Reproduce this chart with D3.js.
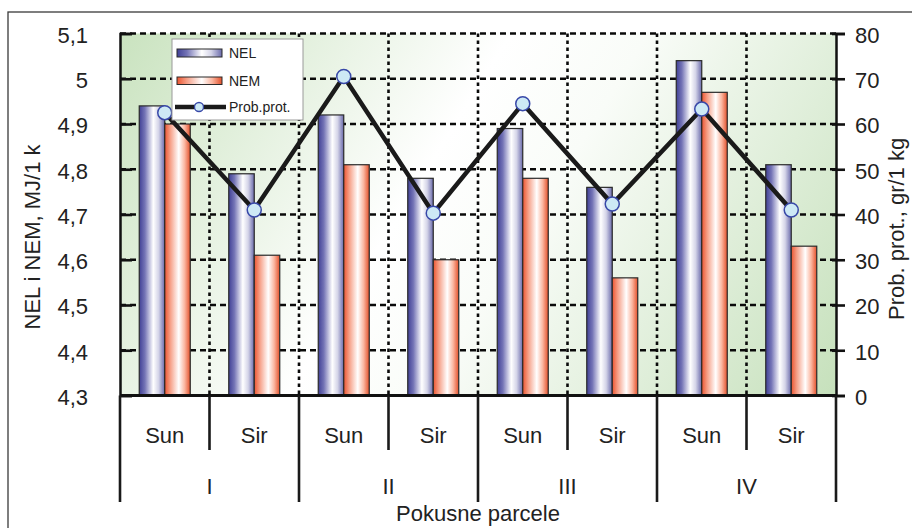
<!DOCTYPE html>
<html><head><meta charset="utf-8">
<script src="https://cdn.jsdelivr.net/npm/d3@7"></script>
<style>
html,body{margin:0;padding:0;background:#fff;}
svg{display:block;font-family:Arial,"Liberation Sans",Helvetica,sans-serif;}
</style></head>
<body>
<svg id="c" width="912" height="528"></svg>
<script>
const groups = ["I","II","III","IV"];
const subLabels = ["Sun","Sir","Sun","Sir","Sun","Sir","Sun","Sir"];
const categories = ["I-Sun","I-Sir","II-Sun","II-Sir","III-Sun","III-Sir","IV-Sun","IV-Sir"];
const nel = [4.94, 4.79, 4.92, 4.78, 4.89, 4.76, 5.04, 4.81];
const nem = [4.90, 4.61, 4.81, 4.60, 4.78, 4.56, 4.97, 4.63];
const prot = [62.5, 41.0, 70.5, 40.3, 64.5, 42.3, 63.3, 41.0];
const leftTicks = [4.3,4.4,4.5,4.6,4.7,4.8,4.9,5.0,5.1];
const leftTickLabels = ["4,3","4,4","4,5","4,6","4,7","4,8","4,9","5","5,1"];
const rightTicks = [0,10,20,30,40,50,60,70,80];
const seriesNames = ["NEL","NEM","Prob.prot."];

const svg = d3.select("#c");
const L=120, R=836, T=33.5, B=395.5;

// outer frame
svg.append("rect").attr("x",8).attr("y",12).attr("width",940).attr("height",560)
  .attr("fill","none").attr("stroke","#3a3a3a").attr("stroke-width",1.3);

const defs = svg.append("defs");
const bg = defs.append("linearGradient").attr("id","bg").attr("gradientUnits","userSpaceOnUse")
  .attr("x1",L).attr("y1",T-40).attr("x2",R).attr("y2",B+40);
[[0,"#c6e1bb"],[0.42,"#ffffff"],[0.56,"#f9fcf8"],[1,"#c3dfb8"]].forEach(s=>bg.append("stop").attr("offset",s[0]).attr("stop-color",s[1]));

function grad(id, stops){
  const g = defs.append("linearGradient").attr("id",id).attr("x1","0").attr("y1","0").attr("x2","1").attr("y2","0");
  stops.forEach(s=>g.append("stop").attr("offset",s[0]).attr("stop-color",s[1]));
}
grad("gNEL", [[0,"#404096"],[0.22,"#7474b6"],[0.55,"#ffffff"],[0.76,"#d4d4e8"],[1,"#6a6aab"]]);
grad("gNEM", [[0,"#ec5530"],[0.22,"#f6a088"],[0.55,"#ffffff"],[0.78,"#fbb6a0"],[1,"#e3502a"]]);

const x0 = d3.scaleBand().domain(categories).range([L,R]).padding(0);
const x1 = d3.scaleBand().domain(["NEL","NEM"]).range([0,x0.bandwidth()]).paddingInner(0).paddingOuter(0.755);
const yL = d3.scaleLinear().domain([4.3,5.1]).range([B,T]);
const yR = d3.scaleLinear().domain([0,80]).range([B,T]);

svg.append("rect").attr("x",L).attr("y",T).attr("width",R-L).attr("height",B-T).attr("fill","url(#bg)");

// horizontal gridlines
svg.append("g").selectAll("line").data(leftTicks.slice(1)).join("line")
  .attr("x1",L).attr("x2",R).attr("y1",d=>yL(d)).attr("y2",d=>yL(d))
  .attr("stroke","#0a0a0a").attr("stroke-width",2.4).attr("stroke-dasharray","6,4");
// vertical gridlines at group boundaries
svg.append("g").selectAll("line").data(categories.slice(1)).join("line")
  .attr("x1",d=>x0(d)).attr("x2",d=>x0(d)).attr("y1",T).attr("y2",B)
  .attr("stroke","#0a0a0a").attr("stroke-width",2.6).attr("stroke-dasharray","3.5,3.5");

// bars
const barG = svg.append("g");
categories.forEach((c,i)=>{
  [["NEL",nel[i],"gNEL"],["NEM",nem[i],"gNEM"]].forEach(([k,v,g])=>{
    barG.append("rect").attr("x",x0(c)+x1(k)).attr("y",yL(v)).attr("width",x1.bandwidth())
      .attr("height",yL(4.3)-yL(v)).attr("fill",`url(#${g})`).attr("stroke","#2a2a2a").attr("stroke-width",1.2);
  });
});

// axes
const axL = d3.axisLeft(yL).tickValues(leftTicks).tickFormat((d,i)=>leftTickLabels[i]).tickSize(-12).tickPadding(32);
const gL = svg.append("g").attr("transform",`translate(${L},0)`).call(axL);
gL.select(".domain").attr("stroke","#111").attr("stroke-width",2.5);
gL.selectAll(".tick line").attr("stroke","#111").attr("stroke-width",2.6);
gL.selectAll(".tick text").attr("font-size",22).attr("fill","#222").attr("font-family","Arial,'Liberation Sans',sans-serif").attr("dy","0.4em");

const axR = d3.axisRight(yR).tickValues(rightTicks).tickSize(9).tickPadding(10);
const gR = svg.append("g").attr("transform",`translate(${R},0)`).call(axR);
gR.select(".domain").attr("stroke","#111").attr("stroke-width",2.5);
gR.selectAll(".tick line").attr("stroke","#111").attr("stroke-width",2.6).attr("x1",-4);
gR.selectAll(".tick text").attr("font-size",22).attr("fill","#222").attr("font-family","Arial,'Liberation Sans',sans-serif").attr("dy","0.4em");

// bottom axis line
svg.append("line").attr("x1",L).attr("x2",R).attr("y1",B).attr("y2",B).attr("stroke","#111").attr("stroke-width",3);

// category separators
const sep = svg.append("g");
categories.forEach((c,i)=>{
  const long = i%2===0;
  sep.append("line").attr("x1",x0(c)).attr("x2",x0(c)).attr("y1",B).attr("y2",long?502:450)
    .attr("stroke","#1a1a1a").attr("stroke-width",2.6);
});
sep.append("line").attr("x1",R).attr("x2",R).attr("y1",B).attr("y2",502).attr("stroke","#1a1a1a").attr("stroke-width",2.6);

svg.append("g").selectAll("text").data(categories).join("text")
  .attr("x",d=>x0(d)+x0.bandwidth()/2).attr("y",443).attr("text-anchor","middle")
  .attr("font-size",22).attr("fill","#222").text((d,i)=>subLabels[i]);
svg.append("g").selectAll("text").data(groups).join("text")
  .attr("x",(d,i)=>x0(categories[i*2+1])).attr("y",494).attr("text-anchor","middle")
  .attr("font-size",22).attr("fill","#222").text(d=>d);

svg.append("text").attr("x",(L+R)/2).attr("y",521).attr("text-anchor","middle")
  .attr("font-size",22).attr("fill","#222").text("Pokusne parcele");
svg.append("text").attr("transform","translate(40,237) rotate(-90)").attr("text-anchor","middle")
  .attr("font-size",22).attr("fill","#222").text("NEL i NEM, MJ/1 k");
svg.append("text").attr("transform","translate(904,320) rotate(-90)").attr("text-anchor","start")
  .attr("font-size",22).attr("fill","#222").text("Prob. prot., gr/1 kg");

// line
const lineGen = d3.line().x((d,i)=>x0(categories[i])+x0.bandwidth()/2).y(d=>yR(d));
svg.append("path").datum(prot).attr("d",lineGen).attr("fill","none").attr("stroke","#1a1a1a").attr("stroke-width",4.5).attr("stroke-linejoin","miter");
svg.append("g").selectAll("circle").data(prot).join("circle")
  .attr("cx",(d,i)=>x0(categories[i])+x0.bandwidth()/2).attr("cy",d=>yR(d)).attr("r",7)
  .attr("fill","#cde9f5").attr("stroke","#3848a8").attr("stroke-width",1.5);

// legend
const lg = svg.append("g");
lg.append("rect").attr("x",172).attr("y",39).attr("width",131).attr("height",81).attr("fill","#fff").attr("stroke","#9a9a9a").attr("stroke-width",1);
lg.append("rect").attr("x",177).attr("y",49).attr("width",45).attr("height",8).attr("fill","url(#gNEL)").attr("stroke","#2a2a2a").attr("stroke-width",1);
lg.append("rect").attr("x",177).attr("y",77).attr("width",45).attr("height",7.5).attr("fill","url(#gNEM)").attr("stroke","#2a2a2a").attr("stroke-width",1);
lg.append("line").attr("x1",175).attr("x2",226).attr("y1",107).attr("y2",107).attr("stroke","#1a1a1a").attr("stroke-width",4.5);
lg.append("circle").attr("cx",199).attr("cy",107).attr("r",4.5).attr("fill","#cde9f5").attr("stroke","#3848a8").attr("stroke-width",1.3);
lg.selectAll("text.l").data(seriesNames).join("text").attr("class","l")
  .attr("x",229).attr("y",(d,i)=>[53,80.5,107][i]).attr("dy","0.36em")
  .attr("font-size",14).attr("fill","#222").text(d=>d);
</script>
</body></html>
